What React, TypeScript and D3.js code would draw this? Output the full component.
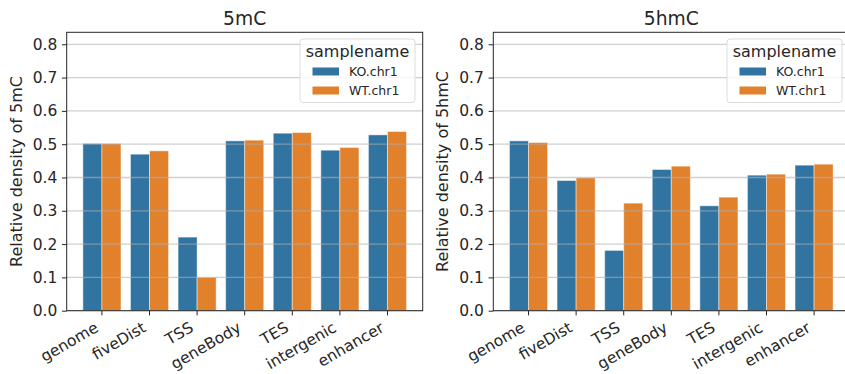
import { useEffect, useRef } from "react";
import * as d3 from "d3";

const regions = ["genome", "fiveDist", "TSS", "geneBody", "TES", "intergenic", "enhancer"];
const samples = ["KO.chr1", "WT.chr1"];
const colors = ["#3274a1", "#e1812c"];

const mcKO = [0.502, 0.47, 0.221, 0.51, 0.533, 0.482, 0.528];
const mcWT = [0.502, 0.48, 0.1, 0.512, 0.535, 0.49, 0.538];
const hmcKO = [0.51, 0.391, 0.181, 0.424, 0.315, 0.407, 0.437];
const hmcWT = [0.505, 0.399, 0.323, 0.434, 0.341, 0.41, 0.44];

const yTicks = [0, 0.1, 0.2, 0.3, 0.4, 0.5, 0.6, 0.7, 0.8];

const W = 845;
const H = 374;
const FONT = "DejaVu Sans, sans-serif";

function drawPanel(
  svg: d3.Selection<SVGSVGElement, unknown, null, undefined>,
  left: number,
  width: number,
  title: string,
  series: number[][],
  legendX: number
) {
  const top = 32.3;
  const bottom = 310.7;
  const g = svg.append("g");

  const x = d3.scaleBand<string>().domain(regions).range([left, left + width]).paddingInner(0).paddingOuter(0.24);
  const y = d3.scaleLinear().domain([0, 0.836]).range([bottom, top]);
  const step = x.bandwidth();
  const barW = step * 0.4;

  // bars
  series.forEach((vals, si) => {
    g.selectAll(null)
      .data(vals)
      .enter()
      .append("rect")
      .attr("x", (_, i) => x(regions[i])! + step / 2 - 0.4 * step + si * barW)
      .attr("y", (d) => y(d))
      .attr("width", barW)
      .attr("height", (d) => bottom - y(d))
      .attr("fill", colors[si])
      .attr("stroke", "#ffffff")
      .attr("stroke-opacity", 0.45)
      .attr("stroke-width", 1);
  });

  // grid over bars
  g.selectAll(null)
    .data(yTicks)
    .enter()
    .append("line")
    .attr("x1", left)
    .attr("x2", left + width)
    .attr("y1", (d) => y(d))
    .attr("y2", (d) => y(d))
    .attr("stroke", "#b0b0b0")
    .attr("stroke-opacity", 0.6)
    .attr("stroke-width", 1.3);

  // frame
  g.append("rect")
    .attr("x", left)
    .attr("y", top)
    .attr("width", width)
    .attr("height", bottom - top)
    .attr("fill", "none")
    .attr("stroke", "#262626")
    .attr("stroke-width", 1);

  // y axis
  const yAxis = g
    .append("g")
    .attr("transform", `translate(${left},0)`)
    .call(d3.axisLeft(y).tickValues(yTicks).tickSize(4.7).tickPadding(4.7).tickFormat(d3.format(".1f")));
  yAxis.select(".domain").remove();
  yAxis.selectAll(".tick line").attr("stroke", "#262626");
  yAxis.selectAll("text").attr("font-family", FONT).attr("font-size", 15.5).attr("fill", "#262626");

  // x axis, labels rotated 30deg, right edge at the tick
  const xAxis = g
    .append("g")
    .attr("transform", `translate(0,${bottom})`)
    .call(d3.axisBottom(x).tickSize(4.7).tickPadding(3));
  xAxis.select(".domain").remove();
  xAxis.selectAll(".tick line").attr("stroke", "#262626");
  xAxis
    .selectAll("text")
    .attr("font-family", FONT)
    .attr("font-size", 15.5)
    .attr("fill", "#262626")
    .attr("text-anchor", "end")
    .attr("dy", null)
    .attr("x", 0)
    .attr("y", 0)
    .attr("transform", "translate(-2.5,20) rotate(-30)");

  // y label
  g.append("text")
    .attr("transform", `translate(${left - 45},${(top + bottom) / 2}) rotate(-90)`)
    .attr("text-anchor", "middle")
    .attr("font-family", FONT)
    .attr("font-size", 16)
    .attr("fill", "#262626")
    .text(`Relative density of ${title}`);

  // title
  g.append("text")
    .attr("x", left + width / 2)
    .attr("y", 25)
    .attr("text-anchor", "middle")
    .attr("font-family", FONT)
    .attr("font-size", 18.7)
    .attr("fill", "#262626")
    .text(title);

  // legend
  const lg = g.append("g").attr("transform", `translate(${legendX},39)`);
  lg.append("rect")
    .attr("width", 115)
    .attr("height", 63.5)
    .attr("rx", 3)
    .attr("fill", "#ffffff")
    .attr("fill-opacity", 0.8)
    .attr("stroke", "#dcdcdc")
    .attr("stroke-width", 1);
  lg.append("text")
    .attr("x", 57.5)
    .attr("y", 17.5)
    .attr("text-anchor", "middle")
    .attr("font-family", FONT)
    .attr("font-size", 16)
    .attr("fill", "#262626")
    .text("samplename");
  samples.forEach((s, i) => {
    lg.append("rect")
      .attr("x", 12.5)
      .attr("y", 28.5 + i * 19)
      .attr("width", 26.5)
      .attr("height", 8)
      .attr("fill", colors[i]);
    lg.append("text")
      .attr("x", 49)
      .attr("y", 32.5 + i * 19)
      .attr("dy", "0.35em")
      .attr("font-family", FONT)
      .attr("font-size", 12.5)
      .attr("fill", "#262626")
      .text(s);
  });
}

export default function App() {
  const svgRef = useRef<SVGSVGElement>(null);

  useEffect(() => {
    if (!svgRef.current) return;
    const svg = d3.select(svgRef.current);
    svg.selectAll("*").remove();
    drawPanel(svg, 66.7, 356, "5mC", [mcKO, mcWT], 300);
    drawPanel(svg, 493.3, 356, "5hmC", [hmcKO, hmcWT], 727);
  }, []);

  return (
    <div style={{ position: "fixed", left: 0, top: 0, width: W, height: H, overflow: "hidden", background: "#fff" }}>
      <svg ref={svgRef} width={W} height={H} style={{ display: "block", overflow: "hidden" }} />
    </div>
  );
}
